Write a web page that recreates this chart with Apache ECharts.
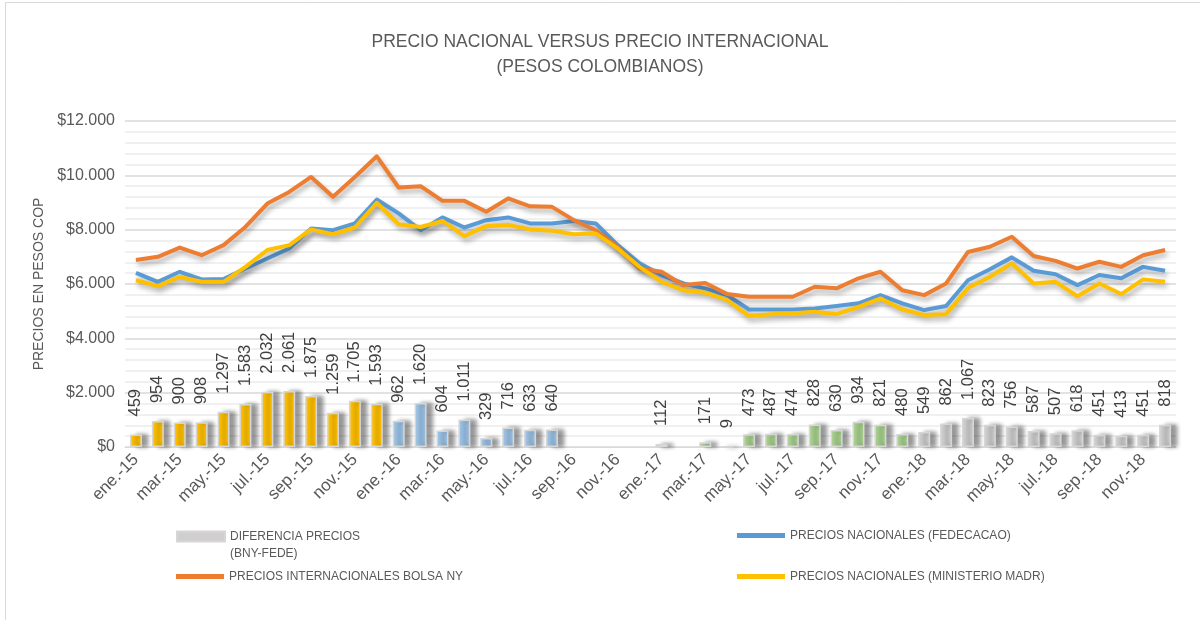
<!DOCTYPE html>
<html>
<head>
<meta charset="utf-8">
<title>Precio nacional versus precio internacional</title>
<script src="https://cdn.jsdelivr.net/npm/echarts@6/dist/echarts.min.js"></script>
<style>
    html, body { margin: 0; padding: 0; background: #fff; }
    #precios_chart { width: 1200px; height: 620px; }
</style>
</head>
<body>
<div id="precios_chart"></div>
<script>
/* ------------------------------------------------------------------------------
 *
 *  # Precio nacional versus precio internacional (pesos colombianos)
 * ---------------------------------------------------------------------------- */

// Categories
var meses = ['ene.', 'feb.', 'mar.', 'abr.', 'may.', 'jun.', 'jul.', 'ago.', 'sep.', 'oct.', 'nov.', 'dic.'];
var anos = ['15', '16', '17', '18'];

// Diferencia precios (BNY - FEDE)
var diferencia = [
    459, 954, 900, 908, 1297, 1583, 2032, 2061, 1875, 1259, 1705, 1593,
    962, 1620, 604, 1011, 329, 716, 633, 640, -15, -60, -60, -55,
    112, -60, 171, 9, 473, 487, 474, 828, 630, 934, 821, 480,
    549, 862, 1067, 823, 756, 587, 507, 618, 451, 413, 451, 818
];

// Precios internacionales bolsa NY
var bolsaNY = [
    6880, 7000, 7340, 7060, 7430, 8100, 8960, 9390, 9940, 9210, 9940, 10700,
    9550, 9600, 9060, 9060, 8660, 9150, 8860, 8840, 8350, 7980, 7370, 6570,
    6450, 5960, 6040, 5630, 5530, 5530, 5530, 5900, 5840, 6210, 6450, 5770,
    5590, 6020, 7180, 7370, 7740, 7030, 6850, 6570, 6820, 6630, 7060, 7250
];

// Precios nacionales (Fedecacao)
var fedecacao = [
    6410, 6080, 6450, 6170, 6180, 6570, 6940, 7310, 8040, 7980, 8230, 9110,
    8600, 7980, 8450, 8080, 8350, 8450, 8230, 8230, 8320, 8230, 7430, 6760,
    6330, 6020, 5840, 5590, 5060, 5060, 5060, 5100, 5190, 5290, 5590, 5290,
    5040, 5190, 6140, 6540, 6980, 6490, 6360, 5960, 6330, 6210, 6630, 6490
];

// Precios nacionales (Ministerio MADR)
var ministerio = [
    6140, 5920, 6260, 6080, 6080, 6630, 7250, 7430, 8010, 7830, 8080, 8990,
    8200, 8100, 8320, 7760, 8130, 8170, 8010, 7960, 7830, 7860, 7310, 6630,
    6080, 5770, 5680, 5410, 4820, 4890, 4920, 4980, 4890, 5160, 5470, 5060,
    4860, 4890, 5850, 6260, 6760, 6020, 6080, 5550, 6020, 5630, 6170, 6080
];

var categorias = [];
anos.forEach(function (a) {
    meses.forEach(function (m) { categorias.push(m + '-' + a); });
});

// Colores de barras por año
var coloresAno = { '15': '#FFC000', '16': '#9DC3E6', '17': '#A9D18E', '18': '#D0CECE' };

var fuente = '"Liberation Sans", Arial, sans-serif';
var gris = '#595959';

function miles(v) {
    var s = String(Math.abs(Math.round(v)));
    return s.replace(/\B(?=(\d{3})+(?!\d))/g, '.');
}

// Define element
var precios_element = document.getElementById('precios_chart');
var precios_chart = echarts.init(precios_element);

var sombraLinea = {
    shadowColor: 'rgba(0,0,0,0.3)',
    shadowBlur: 5,
    shadowOffsetX: 2,
    shadowOffsetY: 4
};

function serieLinea(nombre, datos, color) {
    return {
        name: nombre,
        type: 'line',
        data: datos,
        symbol: 'none',
        color: color,
        lineStyle: Object.assign({ width: 4, color: color, join: 'round' }, sombraLinea),
        z: 3
    };
}

function legendaItem(nombre, icono, alto, color, left, top, formatter) {
    return {
        data: [{ name: nombre, icon: icono, itemStyle: { color: color } }],
        left: left,
        top: top,
        padding: 0,
        itemWidth: 48,
        itemHeight: alto,
        selectedMode: false,
        formatter: formatter,
        textStyle: { fontFamily: fuente, fontSize: 12, color: gris, lineHeight: 17 }
    };
}

precios_chart.setOption({

    animation: false,
    backgroundColor: '#ffffff',

    // Title
    title: {
        text: 'PRECIO NACIONAL VERSUS PRECIO INTERNACIONAL\n(PESOS COLOMBIANOS)',
        left: 'center',
        top: 25,
        textStyle: {
            fontFamily: fuente,
            fontSize: 17.5,
            fontWeight: 'normal',
            color: gris,
            lineHeight: 25
        }
    },

    // Frame
    graphic: [{
        type: 'rect',
        shape: { x: 5.5, y: 2.5, width: 1300, height: 700 },
        style: { fill: 'none', stroke: '#d9d9d9', lineWidth: 1 },
        silent: true
    }],

    // Legends
    legend: [
        legendaItem('DIFERENCIA PRECIOS (BNY-FEDE)', 'rect', 10, '#D0CECE', 176, 511,
            function () { return ' \nDIFERENCIA PRECIOS\n(BNY-FEDE)'; }),
        legendaItem('PRECIOS INTERNACIONALES BOLSA NY', 'rect', 5, '#ED7D31', 176, 568),
        legendaItem('PRECIOS NACIONALES (FEDECACAO)', 'rect', 5, '#5B9BD5', 737, 527),
        legendaItem('PRECIOS NACIONALES (MINISTERIO MADR)', 'rect', 5, '#FFC000', 737, 568)
    ],

    grid: {
        left: 125,
        right: 24,
        top: 121,
        bottom: 173,
        containLabel: false,
        outerBoundsMode: 'none'
    },

    xAxis: {
        type: 'category',
        data: categorias,
        boundaryGap: true,
        axisLine: { lineStyle: { color: '#d9d9d9' } },
        axisTick: { show: false },
        axisLabel: {
            interval: 1,
            rotate: 45,
            margin: 10,
            fontFamily: fuente,
            fontSize: 17,
            color: gris
        }
    },

    yAxis: {
        type: 'value',
        min: 0,
        max: 12000,
        interval: 2000,
        name: 'PRECIOS EN PESOS COP',
        nameLocation: 'middle',
        nameGap: 56,
        nameTextStyle: { fontFamily: fuente, fontSize: 14, color: gris },
        axisLine: { show: false },
        axisTick: { show: false },
        axisLabel: {
            margin: 10,
            fontFamily: fuente,
            fontSize: 16,
            color: gris,
            formatter: function (v) { return '$' + miles(v); }
        },
        splitLine: { lineStyle: { color: '#d9d9d9', width: 1.5 } },
        minorTick: { show: false, splitNumber: 5 },
        minorSplitLine: { show: true, lineStyle: { color: '#ececec', width: 1.5 } }
    },

    // Add series
    series: [
        {
            name: 'DIFERENCIA PRECIOS (BNY-FEDE)',
            type: 'bar',
            data: diferencia,
            barWidth: 12,
            z: 2,
            itemStyle: {
                color: function (p) { return coloresAno[categorias[p.dataIndex].slice(-2)]; },
                borderColor: '#d6d6d6',
                borderWidth: 1.5,
                shadowColor: 'rgba(0,0,0,0.4)',
                shadowBlur: 4,
                shadowOffsetX: 6,
                shadowOffsetY: 0
            },
            label: {
                show: true,
                position: 'top',
                rotate: 90,
                align: 'left',
                verticalAlign: 'middle',
                distance: 18,
                fontFamily: fuente,
                fontSize: 16.5,
                color: '#404040',
                formatter: function (p) { return p.value < 0 ? '' : miles(p.value); }
            }
        },
        serieLinea('PRECIOS NACIONALES (FEDECACAO)', fedecacao, '#5B9BD5'),
        serieLinea('PRECIOS INTERNACIONALES BOLSA NY', bolsaNY, '#ED7D31'),
        serieLinea('PRECIOS NACIONALES (MINISTERIO MADR)', ministerio, '#FFC000')
    ]
});

// Resize function
window.addEventListener('resize', function () {
    precios_chart.resize();
});
</script>
</body>
</html>
